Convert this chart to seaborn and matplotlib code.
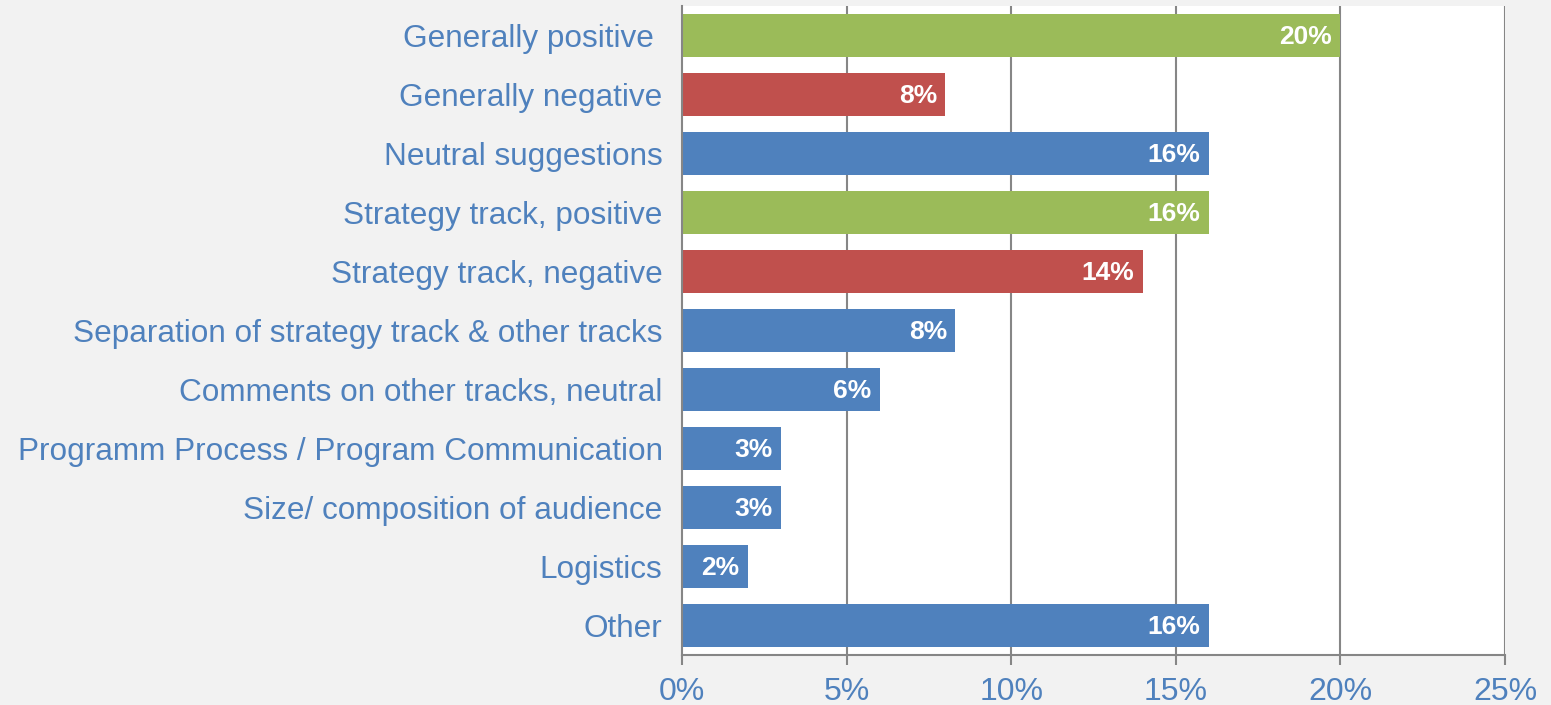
import numpy as np
import pandas as pd
import seaborn as sns
import matplotlib.pyplot as plt
from matplotlib.ticker import FuncFormatter

# --- data ---
categories = [
    "Generally positive ",
    "Generally negative",
    "Neutral suggestions",
    "Strategy track, positive",
    "Strategy track, negative",
    "Separation of strategy track & other tracks",
    "Comments on other tracks, neutral",
    "Programm Process / Program Communication",
    "Size/ composition of audience",
    "Logistics",
    "Other",
]
shares = [20, 8, 16, 16, 14, 8.3, 6, 3, 3, 2, 16]
labels = ["20%", "8%", "16%", "16%", "14%", "8%", "6%", "3%", "3%", "2%", "16%"]
tone = ["pos", "neg", "neu", "pos", "neg", "neu", "neu", "neu", "neu", "neu", "neu"]

tone_colours = {"pos": "#9bbb59", "neg": "#c0504d", "neu": "#4f81bd"}
text_blue = "#4f81bd"
grid_grey = "#868686"

df = pd.DataFrame({"category": categories, "share": shares, "tone": tone})

sns.set_style("white")
plt.rcParams["font.family"] = ["Liberation Sans", "DejaVu Sans"]

fig = plt.figure(figsize=(15.51, 7.05), dpi=100)
fig.patch.set_facecolor("#f2f2f2")
ax = fig.add_axes([682 / 1551, 50 / 705, (1505 - 682) / 1551, (655 - 6) / 705])
ax.set_facecolor("white")

sns.barplot(
    data=df, x="share", y="category", hue="category",
    palette=[tone_colours[t] for t in tone], legend=False,
    width=0.73, saturation=1, orient="h", ax=ax, linewidth=0,
)

# value labels inside the bar ends
for i, (v, lab) in enumerate(zip(shares, labels)):
    ax.annotate(lab, xy=(v, i), xytext=(-6, -1), textcoords="offset points",
                ha="right", va="center", color="white", fontsize=19,
                fontweight="bold")

ax.set_xlim(0, 25)
ax.set_ylim(len(categories) - 0.5, -0.5)
ax.set_xticks([0, 5, 10, 15, 20, 25])
ax.xaxis.set_major_formatter(FuncFormatter(lambda x, p: f"{x:.0f}%"))
ax.set_xlabel("")
ax.set_ylabel("")

# vertical gridlines
for x in [5, 10, 15, 20, 25]:
    ax.axvline(x, color=grid_grey, lw=1.5, zorder=0)

for side in ["top", "right"]:
    ax.spines[side].set_visible(False)
for side in ["left", "bottom"]:
    ax.spines[side].set_color(grid_grey)
    ax.spines[side].set_linewidth(1.5)

# y ticks sit between categories, labels centred on bars
ax.set_yticks(np.arange(len(categories)))
ax.set_yticklabels(categories)
ax.set_yticks(np.arange(-0.5, len(categories), 1), minor=True)
ax.tick_params(axis="y", which="major", length=0, pad=14, labelsize=22.7,
               labelcolor=text_blue)
ax.tick_params(axis="y", which="minor", length=7, width=1.5, color=grid_grey)
ax.tick_params(axis="x", length=7, width=1.5, color=grid_grey, pad=9,
               labelsize=23, labelcolor=text_blue)
ax.tick_params(left=True, bottom=True)
ax.tick_params(axis="y", which="major", left=False)

fig.savefig("out.png", dpi=100, facecolor=fig.get_facecolor())
